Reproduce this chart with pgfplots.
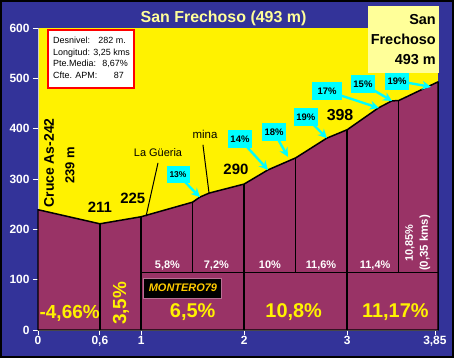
\documentclass[border=0pt]{standalone}
\usepackage{pgfplots}
\pgfplotsset{compat=1.18}
\usepackage{fontspec}
\setmainfont{Liberation Sans}
\usetikzlibrary{arrows.meta}
\definecolor{bgblue}{HTML}{333399}
\definecolor{prof}{HTML}{993366}
\definecolor{ltyel}{HTML}{FFFF99}
\definecolor{cyanbox}{HTML}{00FFFF}
\definecolor{gold}{HTML}{FFCC00}
\begin{document}
\begin{tikzpicture}
\fill[black] (0bp,0bp) rectangle (454bp,358bp);
\fill[bgblue] (2bp,2bp) rectangle (452bp,356bp);
\begin{axis}[at={(38bp,28bp)}, anchor=south west, scale only axis,
  width=400bp, height=302bp,
  xmin=0, xmax=3.88, ymin=0, ymax=600,
  axis background/.style={fill=yellow},
  axis x line*=bottom, axis y line*=left,
  axis line style={gray!40, line width=0.8pt},
  tick align=outside, major tick length=5bp,
  tick style={white, line width=0.8pt},
  xtick={0,0.6,1,2,3,3.85}, xticklabels={0,{0,6},1,2,3,{3,85}},
  ytick={0,100,200,300,400,500,600}, yticklabels={0,100,200,300,400,500,600},
  ticklabel style={font=\fontsize{12}{12}\selectfont\bfseries, text=white},
  xticklabel style={yshift=2bp},
  clip=false]
\addplot[draw=black, line width=1.5pt, line join=round, fill=prof] coordinates {
(0,239) (0.6,211) (1,225) (1.5,254) (1.57,264) (1.66,272) (2,290) (2.23,318) (2.5,342) (2.8,381) (3,398) (3.3,441) (3.43,455) (3.5,456) (3.88,493)} \closedcycle;
\addplot[black, line width=1.6pt, ycomb, mark=none] coordinates {(0.6,211) (1,225) (2,290) (3,398)};
\addplot[black, line width=0.8pt] coordinates {(1,115) (3.88,115)};
\addplot[black, line width=0.8pt] coordinates {(1.5,115) (1.5,254)};
\addplot[black, line width=0.8pt] coordinates {(2.5,115) (2.5,342)};
\addplot[black, line width=0.8pt] coordinates {(3.5,115) (3.5,456)};
% elevation labels
\node[font=\fontsize{15}{15}\selectfont\bfseries] at (axis cs:0.6,244) {211};
\node[font=\fontsize{15}{15}\selectfont\bfseries] at (axis cs:0.92,262) {225};
\node[font=\fontsize{15}{15}\selectfont\bfseries] at (axis cs:1.92,320) {290};
\node[font=\fontsize{16}{16}\selectfont\bfseries] at (axis cs:2.93,427) {398};
\node[rotate=90, font=\fontsize{14}{14}\selectfont\bfseries] at (axis cs:0.107,332) {Cruce As-242};
\node[rotate=90, font=\fontsize{13}{13}\selectfont\bfseries] at (axis cs:0.31,327) {239 m};
% place names
\node[font=\fontsize{11}{11}\selectfont] at (axis cs:1.164,352) {La Güeria};
\draw[black, line width=1pt] (axis cs:1.164,332) -- (axis cs:1.048,226);
\node[font=\fontsize{11.5}{11.5}\selectfont] at (axis cs:1.62,389) {mina};
\draw[black, line width=1pt] (axis cs:1.60,368) -- (axis cs:1.659,272);
% big percentages
\node[font=\fontsize{19}{19}\selectfont\bfseries, text=yellow] at (axis cs:0.307,34) {-4,66\%};
\node[rotate=90, font=\fontsize{19}{19}\selectfont\bfseries, text=yellow] at (axis cs:0.805,53) {3,5\%};
\node[font=\fontsize{20}{20}\selectfont\bfseries, text=yellow] at (axis cs:1.50,36) {6,5\%};
\node[font=\fontsize{20}{20}\selectfont\bfseries, text=yellow] at (axis cs:2.48,36) {10,8\%};
\node[font=\fontsize{20}{20}\selectfont\bfseries, text=yellow] at (axis cs:3.466,36) {11,17\%};
% small percentages
\node[font=\fontsize{11}{11}\selectfont\bfseries, text=white] at (axis cs:1.256,129) {5,8\%};
\node[font=\fontsize{11}{11}\selectfont\bfseries, text=white] at (axis cs:1.73,129) {7,2\%};
\node[font=\fontsize{11}{11}\selectfont\bfseries, text=white] at (axis cs:2.25,129) {10\%};
\node[font=\fontsize{11}{11}\selectfont\bfseries, text=white] at (axis cs:2.745,129) {11,6\%};
\node[font=\fontsize{11}{11}\selectfont\bfseries, text=white] at (axis cs:3.27,129) {11,4\%};
\node[rotate=90, font=\fontsize{11}{11}\selectfont\bfseries, text=white] at (axis cs:3.608,173) {10,85\%};
\node[rotate=90, font=\fontsize{11.5}{11.5}\selectfont\bfseries, text=white] at (axis cs:3.754,173) {(0,35 kms)};
% signature
\node[fill=black, draw=prof!70!white, line width=1pt, font=\fontsize{11}{11}\selectfont\bfseries\itshape, text=gold, minimum width=78bp, minimum height=20bp, inner sep=1pt] at (axis cs:1.406,83) {MONTERO79};
% arrows
\begin{scope}[cyanbox, line width=2.4pt, -{Stealth[length=9pt,width=9pt]}]
\draw (axis cs:1.358,308) -- (axis cs:1.571,264);
\draw (axis cs:1.959,379) -- (axis cs:2.231,318);
\draw (axis cs:2.289,393) -- (axis cs:2.425,344);
\draw (axis cs:2.599,423) -- (axis cs:2.803,381);
\draw (axis cs:2.803,475) -- (axis cs:3.307,441);
\draw (axis cs:3.152,489) -- (axis cs:3.434,455);
\draw (axis cs:3.482,495) -- (axis cs:3.812,483);
\end{scope}
\begin{scope}[every node/.style={fill=cyanbox, font=\fontsize{9.5}{9.5}\selectfont\bfseries, minimum width=24bp, minimum height=18bp, inner sep=1pt}]
\node[font=\fontsize{8.5}{8.5}\selectfont\bfseries, minimum width=23bp, minimum height=17bp] at (axis cs:1.358,308) {13\%};
\node at (axis cs:1.959,379) {14\%};
\node at (axis cs:2.289,393) {18\%};
\node at (axis cs:2.599,423) {19\%};
\node[minimum width=30bp] at (axis cs:2.803,475) {17\%};
\node at (axis cs:3.152,489) {15\%};
\node at (axis cs:3.482,495) {19\%};
\end{scope}
\end{axis}
% title
\node[font=\fontsize{16}{16}\selectfont\bfseries, text=ltyel] at (223.5bp,340bp) {San Frechoso (493 m)};
% top-right box
\fill[ltyel] (368bp,285bp) rectangle (439bp,352bp);
\node[anchor=north east, align=right, inner sep=0pt, font=\fontsize{14.5}{20}\selectfont\bfseries] at (436bp,344bp) {San\\Frechoso\\493 m};
% info box
\draw[red, line width=1.5pt, fill=white] (48bp,270bp) rectangle (134bp,328bp);
\begin{scope}[every node/.style={inner sep=0pt, font=\fontsize{9}{9}\selectfont}]
\node[anchor=base west] at (53bp,314bp) {Desnivel:};
\node[anchor=base east] at (126bp,314bp) {282 m.};
\node[anchor=base west] at (53bp,302.5bp) {Longitud:};
\node[anchor=base east] at (130bp,302.5bp) {3,25 kms};
\node[anchor=base west] at (53bp,291bp) {Pte.Media:};
\node[anchor=base east] at (128bp,291bp) {8,67\%};
\node[anchor=base west] at (53bp,279.5bp) {Cfte. APM:};
\node[anchor=base east] at (124bp,279.5bp) {87};
\end{scope}
\end{tikzpicture}
\end{document}
